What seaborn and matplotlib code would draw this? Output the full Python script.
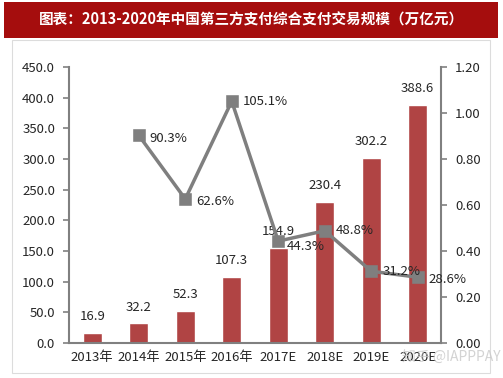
import matplotlib
matplotlib.use("Agg")
import matplotlib.pyplot as plt
import seaborn as sns
import pandas as pd
from matplotlib.patches import Rectangle
from matplotlib.ticker import FixedLocator

categories = ["2013年", "2014年", "2015年", "2016年", "2017E", "2018E", "2019E", "2020E"]
scale_values = [16.9, 32.2, 52.3, 107.3, 154.9, 230.4, 302.2, 388.6]
growth_categories = ["2014年", "2015年", "2016年", "2017E", "2018E", "2019E", "2020E"]
growth_values = [0.903, 0.626, 1.051, 0.443, 0.488, 0.312, 0.286]
growth_labels = ["90.3%", "62.6%", "105.1%", "44.3%", "48.8%", "31.2%", "28.6%"]
left_ticks = [0, 50, 100, 150, 200, 250, 300, 350, 400, 450]
right_ticks = [0.0, 0.2, 0.4, 0.6, 0.8, 1.0, 1.2]
title = "图表：2013-2020年中国第三方支付综合支付交易规模（万亿元）"

sns.set_style("white")
plt.rcParams['font.family'] = ['Noto Sans CJK SC', 'DejaVu Sans']

W, H = 503, 378
fig = plt.figure(figsize=(W / 100, H / 100), dpi=100)

# title banner
fig.patches.append(Rectangle((4 / W, 1 - 38 / H), 494 / W, 36 / H, transform=fig.transFigure,
                             facecolor="#a50d0d", edgecolor="none", zorder=-10))
fig.text(0.5, 1 - 20 / H, title, color="white", fontsize=10.5, fontweight="bold",
         ha="center", va="center")
# inner frame
fig.patches.append(Rectangle((12 / W, 1 - 373 / H), 478 / W, 333 / H, transform=fig.transFigure,
                             facecolor="white", edgecolor="#dcdcdc", linewidth=0.8, zorder=-10))

ax = fig.add_axes([69 / W, 1 - 343 / H, 372 / W, 276 / H])
ax.set_facecolor("none")
df = pd.DataFrame({"cat": categories, "val": scale_values})
sns.barplot(data=df, x="cat", y="val", order=categories, color="#b04444", saturation=1,
            width=0.4, ax=ax, zorder=2)
ax.set_ylim(0, 450)
ax.set_xlim(-0.5, len(categories) - 0.5)
ax.set_yticks(left_ticks)
ax.set_yticklabels([f"{v:.1f}" for v in left_ticks], fontsize=9.5)
ax.set_xlabel("")
ax.set_ylabel("")
ax.tick_params(axis="x", length=0, labelsize=9.5, pad=6)
ax.xaxis.set_minor_locator(FixedLocator([i - 0.5 for i in range(len(categories) + 1)]))
ax.tick_params(axis="x", which="minor", length=4, color="#808080", width=1.2, direction="out")
ax.tick_params(axis="y", length=4, color="#808080", width=1.2, direction="out", pad=6)
for s in ["top", "right"]:
    ax.spines[s].set_visible(False)
for s in ["left", "bottom"]:
    ax.spines[s].set_color("#808080")
    ax.spines[s].set_linewidth(1.5)
for c in ax.containers:
    ax.bar_label(c, labels=[f"{v:.1f}" for v in scale_values], padding=7, fontsize=9.5)

ax2 = ax.twinx()
gdf = pd.DataFrame({"cat": growth_categories, "g": growth_values})
sns.pointplot(data=gdf, x="cat", y="g", order=categories, color="#7f7f7f", markers="s",
              markersize=7, linewidth=2.5, ax=ax2, native_scale=False)
ax2.set_xlim(-0.5, len(categories) - 0.5)
ax2.set_ylim(0, 1.2)
ax2.set_yticks(right_ticks)
ax2.set_yticklabels([f"{v:.2f}" for v in right_ticks], fontsize=9.5)
ax2.set_ylabel("")
ax2.set_xlabel("")
ax2.tick_params(axis="y", length=4, color="#808080", width=1.2, direction="out", pad=6)
for s in ["top", "left", "bottom"]:
    ax2.spines[s].set_visible(False)
ax2.spines["right"].set_color("#808080")
ax2.spines["right"].set_linewidth(1.5)
offsets = [(8, -2), (8, -2), (8, 0), (6, -4), (8, 0), (8, 0), (8, -2)]
for cat, v, lab, off in zip(growth_categories, growth_values, growth_labels, offsets):
    ax2.annotate(lab, (categories.index(cat), v), xytext=off, textcoords="offset points",
                 fontsize=9.5, ha="left", va="center")

fig.text(402 / W, 1 - 358 / H, "知乎 @IAPPPAY", fontsize=10, color="#c8c8c8", alpha=0.8,
         ha="left", va="center")

fig.savefig("out.png", dpi=100, facecolor="white")
